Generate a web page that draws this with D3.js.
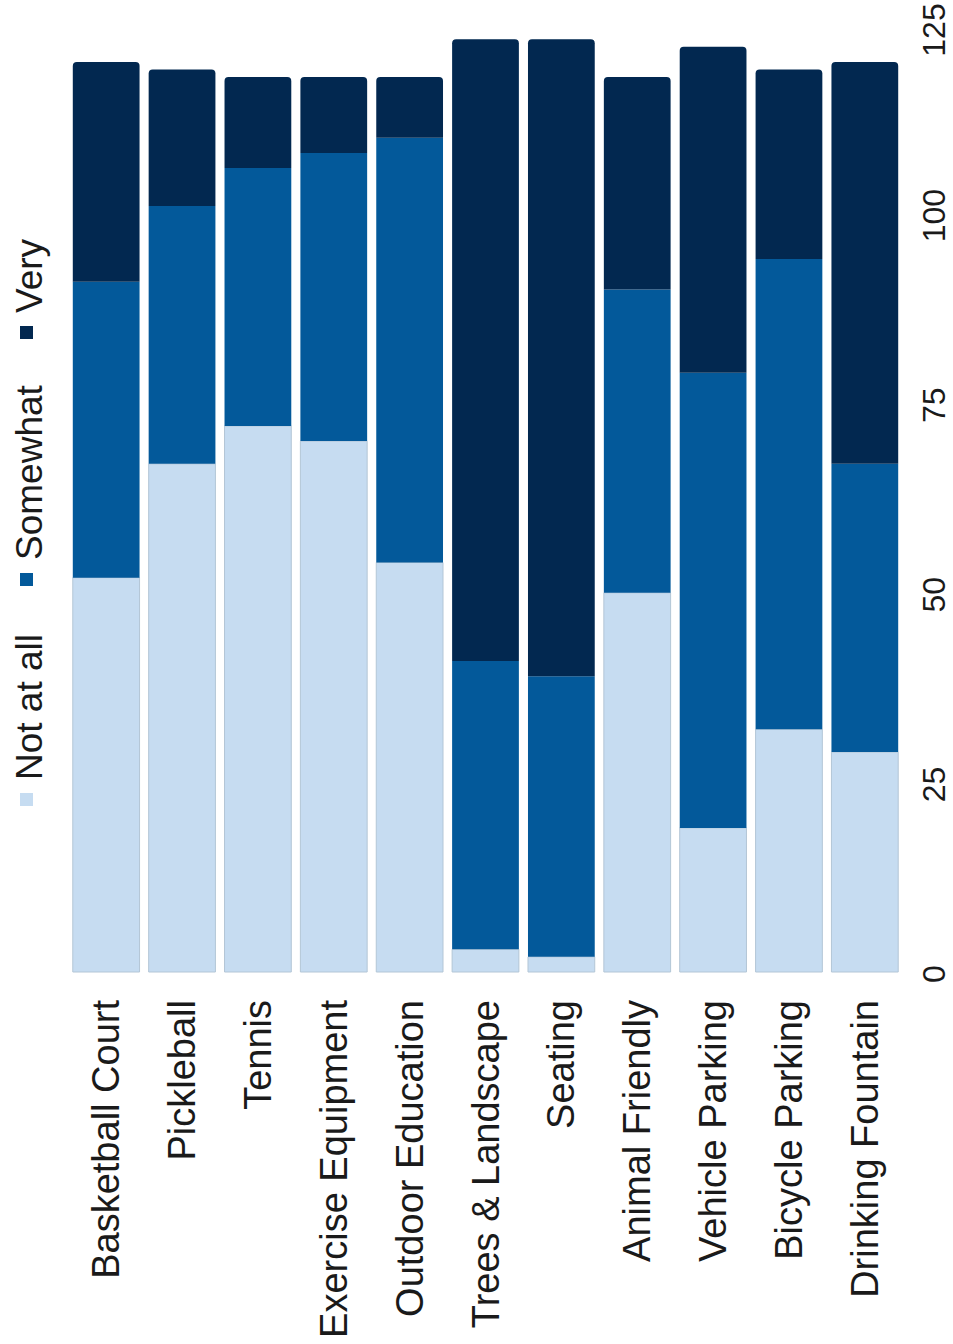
<!DOCTYPE html>
<html>
<head>
<meta charset="utf-8">
<script src="https://cdn.jsdelivr.net/npm/d3@7"></script>
<style>
  html, body { margin: 0; padding: 0; background: #ffffff; }
  svg { display: block; }
  text { font-family: "Liberation Sans", Arial, sans-serif; fill: #1a1a1a; }
</style>
</head>
<body>
<svg id="chart" width="953" height="1344"></svg>
<script>
// ---- data ----
const categories = ["Basketball Court", "Pickleball", "Tennis", "Exercise Equipment", "Outdoor Education",
  "Trees & Landscape", "Seating", "Animal Friendly", "Vehicle Parking", "Bicycle Parking", "Drinking Fountain"];
const seriesNames = ["Not at all", "Somewhat", "Very"];
const notAtAll = [52, 67, 72, 70, 54, 3, 2, 50, 19, 32, 29];
const somewhat = [39, 34, 34, 38, 56, 38, 37, 40, 60, 62, 38];
const very     = [29, 18, 12, 10, 8, 82, 84, 28, 43, 25, 53];
const tickValues = [0, 25, 50, 75, 100, 125];
const colors = ["#c6dcf1", "#03599a", "#022850"];

// ---- build ----
const rows = categories.map((c, i) => ({
  category: c, "Not at all": notAtAll[i], "Somewhat": somewhat[i], "Very": very[i]
}));
const stacked = d3.stack().keys(seriesNames)(rows);

const svg = d3.select("#chart");
const x = d3.scaleBand().domain(categories).range([69, 902]).paddingInner(0.12).paddingOuter(0.05);
const y = d3.scaleLinear().domain([0, 125]).range([972, 24]);
const color = d3.scaleOrdinal().domain(seriesNames).range(colors);

function barPath(x0, x1, y0, y1, r) {
  // rounded top corners only
  r = Math.min(r, (y0 - y1), (x1 - x0) / 2);
  return `M${x0},${y0} L${x0},${y1 + r} Q${x0},${y1} ${x0 + r},${y1} L${x1 - r},${y1} Q${x1},${y1} ${x1},${y1 + r} L${x1},${y0} Z`;
}

const layers = svg.append("g").selectAll("g").data(stacked).join("g")
  .attr("fill", d => color(d.key));

layers.each(function (layer, li) {
  d3.select(this).selectAll("path").data(layer).join("path")
    .attr("d", d => {
      const x0 = x(d.data.category), x1 = x0 + x.bandwidth();
      const r = li === seriesNames.length - 1 ? 4 : 0;
      return barPath(x0, x1, y(d[0]), y(d[1]), r);
    })
    .attr("stroke", li === 0 ? "#b3c6d6" : "none")
    .attr("stroke-width", li === 0 ? 1 : 0);
});

// value axis on right, rotated labels
const axisG = svg.append("g");
axisG.selectAll("text").data(tickValues).join("text")
  .attr("transform", d => `translate(945,${Math.max(y(d) + 2, 30)}) rotate(-90)`)
  .attr("text-anchor", "middle")
  .attr("font-size", 32)
  .text(d => d);

// category labels
svg.append("g").selectAll("text").data(categories).join("text")
  .attr("transform", d => `translate(${x(d) + x.bandwidth() / 2 + 13},1000) rotate(-90)`)
  .attr("text-anchor", "end")
  .attr("font-size", 38)
  .text(d => d);

// legend (rotated)
const legendY = [806, 586, 339];
const legendG = svg.append("g");
seriesNames.forEach((name, i) => {
  legendG.append("rect")
    .attr("x", 20).attr("y", legendY[i] - 13)
    .attr("width", 13).attr("height", 13)
    .attr("fill", colors[i]);
  legendG.append("text")
    .attr("transform", `translate(42,${legendY[i] - 26}) rotate(-90)`)
    .attr("text-anchor", "start")
    .attr("font-size", 37)
    .text(name);
});
</script>
</body>
</html>
